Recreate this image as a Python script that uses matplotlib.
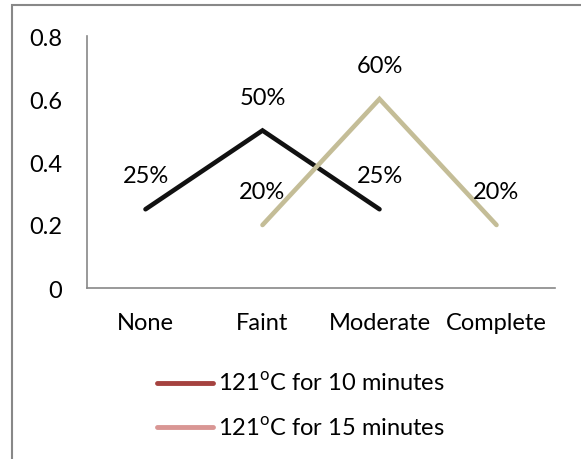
import matplotlib
matplotlib.use('Agg')
import matplotlib.pyplot as plt
from matplotlib.lines import Line2D
from matplotlib.patches import Rectangle

plt.rcParams['font.family'] = ['Lato', 'DejaVu Sans']
plt.rcParams['mathtext.fontset'] = 'custom'
plt.rcParams['mathtext.rm'] = 'Lato'

categories = ['None', 'Faint', 'Moderate', 'Complete']
series_10 = [0.25, 0.50, 0.25, None]
series_15 = [None, 0.20, 0.60, 0.20]
labels = ['121$^{\\rm o}$C for 10 minutes', '121$^{\\rm o}$C for 15 minutes']
yticks = [0, 0.2, 0.4, 0.6, 0.8]

line_colors = ['#111111', '#C4BD97']
legend_colors = ['#A5423F', '#D99694']

FS = 17
W, H = 581, 460
fig = plt.figure(figsize=(W / 100, H / 100), dpi=100)
ax = fig.add_axes([87 / W, 1 - 289 / H, (555 - 87) / W, (289 - 37) / H])

x = list(range(len(categories)))
for vals, col in zip([series_10, series_15], line_colors):
    xs = [i for i, v in zip(x, vals) if v is not None]
    ys = [v for v in vals if v is not None]
    ax.plot(xs, ys, color=col, lw=3.3, solid_capstyle='round', solid_joinstyle='miter')
    for xi, yi in zip(xs, ys):
        ax.annotate(f'{yi * 100:.0f}%', (xi, yi), xytext=(0, 24), textcoords='offset points',
                    ha='center', va='center', fontsize=FS)

ax.set_xlim(-0.5, 3.5)
ax.set_ylim(0, 0.8)
ax.set_xticks(x)
ax.set_xticklabels(categories)
ax.set_yticks(yticks)
ax.set_yticklabels(['0', '0.2', '0.4', '0.6', '0.8'])
ax.tick_params(axis='both', length=0, labelsize=FS)
ax.tick_params(axis='y', pad=18)
ax.tick_params(axis='x', pad=17)
for side in ['top', 'right']:
    ax.spines[side].set_visible(False)
for side in ['left', 'bottom']:
    ax.spines[side].set_color('#888888')
    ax.spines[side].set_linewidth(1.2)

handles = [Line2D([], [], color=c, lw=3.5, solid_capstyle='round') for c in legend_colors]
fig.legend(handles, labels, loc='upper left', bbox_to_anchor=(148 / W, 1 - 363 / H),
           frameon=False, fontsize=FS, handlelength=2.35, handletextpad=0.22,
           labelspacing=0.9, borderaxespad=0)

# outer chart border
fig.add_artist(Rectangle((12 / W, -0.05), 1.1, 1 - 6 / H + 0.05, transform=fig.transFigure,
                         fill=False, edgecolor='#888888', lw=1.5))

fig.savefig('out.png', dpi=100)
